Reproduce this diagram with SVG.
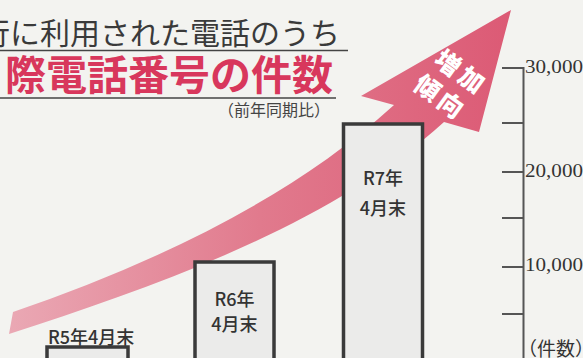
<svg xmlns="http://www.w3.org/2000/svg" width="583" height="358" viewBox="0 0 583 358">
  <style>
    .t1 { font-family: "Noto Sans CJK JP", sans-serif; font-size: 30px; fill: #3a3a3a; }
    .t2 { font-family: "Noto Sans CJK JP", sans-serif; font-size: 41px; font-weight: 700; fill: #d8375c; }
    .sub { font-family: "Liberation Serif", "Noto Sans CJK JP", serif; font-size: 16px; fill: #444; }
    .bar { fill: #ebebea; stroke: #3a3a3a; stroke-width: 3.5; }
    .bl { font-family: "Noto Sans CJK JP", sans-serif; font-size: 18px; font-weight: 500; fill: #333; }
    .ax { stroke: #555; stroke-width: 2; fill: none; }
    .num { font-family: "Liberation Serif", serif; font-size: 18px; fill: #333; }
    .unit { font-family: "Liberation Serif", "Noto Sans CJK JP", serif; font-size: 19px; fill: #333; }
    .arr { font-family: "Noto Sans CJK JP", sans-serif; font-size: 25px; font-weight: 900; fill: #ffffff; letter-spacing: 4px; }
    .rule { stroke: #444; stroke-width: 1.5; }
  </style>
  <defs>
    <linearGradient id="pink" x1="0" y1="0" x2="1" y2="0">
      <stop offset="0" stop-color="#eaa8b4"/>
      <stop offset="0.5" stop-color="#e17a8d"/>
      <stop offset="1" stop-color="#dc5a75"/>
    </linearGradient>
  </defs>
  <rect width="583" height="358" fill="#f3f3f0"/>

  <g id="title">
    <text class="t1" x="-20" y="44">行に利用された電話のうち</text>
    <line class="rule" x1="0" y1="50.5" x2="348" y2="50.5"/>
    <text class="t2" x="5" y="90">際電話番号の件数</text>
    <line class="rule" x1="0" y1="98" x2="336" y2="98"/>
    <text class="sub" x="218" y="116">（前年同期比）</text>
  </g>

  <g id="connectors">
    <g id="trend-arrow">
      <path d="M13,312 C150,265 290,200 394,105 L361,96 L511,10 L479,132 L444,122 C330,225 160,285 9,334 Z" fill="url(#pink)"/>
      <g transform="translate(448,63) rotate(36)">
        <text class="arr" x="-12.5" y="9">増加</text>
        <text class="arr" x="-14.5" y="41.5">傾向</text>
      </g>
    </g>
  </g>

  <g id="bar-r5">
    <rect class="bar" x="47" y="347" width="81" height="20"/>
    <text class="bl" x="48" y="344">R5年4月末</text>
  </g>
  <g id="bar-r6">
    <rect class="bar" x="195" y="262" width="79" height="110"/>
    <text class="bl" x="234.5" y="306" text-anchor="middle">R6年</text>
    <text class="bl" x="234.5" y="331" text-anchor="middle">4月末</text>
  </g>
  <g id="bar-r7">
    <rect class="bar" x="343.5" y="124" width="79" height="250"/>
    <text class="bl" x="383" y="185" text-anchor="middle">R7年</text>
    <text class="bl" x="383" y="215" text-anchor="middle">4月末</text>
  </g>

  <g id="axis">
    <line class="ax" x1="523.5" y1="67" x2="523.5" y2="358"/>
    <line class="ax" x1="502" y1="68" x2="523.5" y2="68"/>
    <line class="ax" x1="502" y1="123" x2="523.5" y2="123"/>
    <line class="ax" x1="502" y1="172" x2="523.5" y2="172"/>
    <line class="ax" x1="502" y1="218" x2="523.5" y2="218"/>
    <line class="ax" x1="502" y1="267" x2="523.5" y2="267"/>
    <line class="ax" x1="502" y1="314" x2="523.5" y2="314"/>
    <text class="num" x="525" y="73" textLength="58" lengthAdjust="spacingAndGlyphs">30,000</text>
    <text class="num" x="525" y="177" textLength="58" lengthAdjust="spacingAndGlyphs">20,000</text>
    <text class="num" x="525" y="271" textLength="58" lengthAdjust="spacingAndGlyphs">10,000</text>
    <text class="unit" x="518" y="356">（件数）</text>
  </g>
</svg>
